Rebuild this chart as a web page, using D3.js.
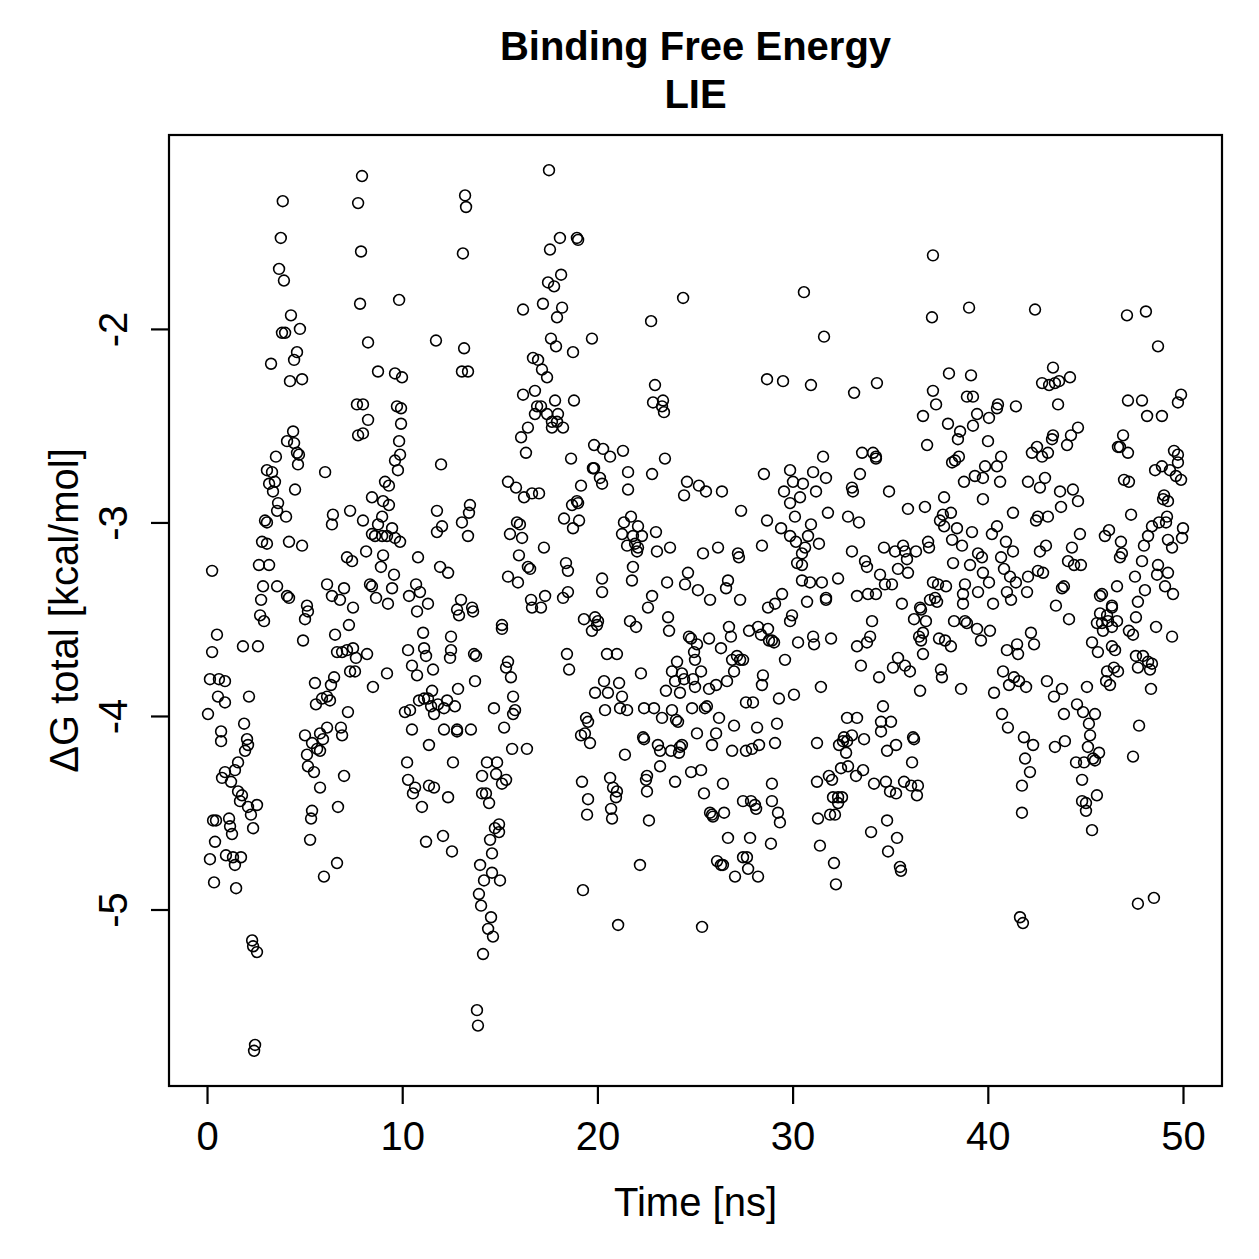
<!DOCTYPE html>
<html><head><meta charset="utf-8">
<script src="https://cdn.jsdelivr.net/npm/d3@7"></script>
<style>body{margin:0;background:#fff} svg{display:block} text{font-family:"Liberation Sans",Arial,Helvetica,sans-serif;fill:#000}</style>
</head><body><svg id="chart" width="1259" height="1259"></svg>
<script>
// [time (ns), dG total (kcal/mol)], grouped by time window
const seg0to10 = [[3.88,-1.34],[3.78,-1.53],[3.69,-1.69],[3.94,-1.75],[4.30,-1.93],[4.76,-2.00],[3.84,-2.02],[4.00,-2.02],[4.61,-2.12],[4.46,-2.16],[3.28,-2.18],[4.25,-2.27],[4.87,-2.26],[7.94,-1.21],[7.74,-1.35],[7.89,-1.60],[9.84,-1.85],[7.84,-1.87],[8.25,-2.07],[8.76,-2.22],[9.63,-2.23],[9.99,-2.25],[7.68,-2.39],[7.99,-2.39],[8.25,-2.47],[7.74,-2.55],[7.99,-2.54],[9.73,-2.40],[9.94,-2.41],[9.94,-2.49],[9.84,-2.58],[9.63,-2.68],[9.89,-2.65],[9.78,-2.73],[4.41,-2.53],[4.10,-2.58],[4.46,-2.59],[4.61,-2.64],[4.71,-2.65],[4.66,-2.70],[3.53,-2.66],[3.07,-2.73],[3.33,-2.74],[3.18,-2.80],[3.48,-2.79],[3.38,-2.84],[4.51,-2.83],[3.64,-2.90],[3.59,-2.94],[4.05,-2.97],[2.97,-2.99],[3.07,-3.00],[6.05,-2.74],[7.33,-2.94],[6.45,-2.96],[6.40,-3.01],[7.99,-2.99],[2.82,-3.10],[3.07,-3.11],[4.20,-3.10],[4.87,-3.12],[8.45,-2.87],[9.12,-2.79],[9.32,-2.81],[9.02,-2.89],[9.32,-2.91],[8.97,-2.97],[8.76,-3.01],[8.45,-3.06],[8.61,-3.07],[8.97,-3.07],[9.22,-3.07],[9.48,-3.03],[9.63,-3.08],[9.89,-3.10],[8.15,-3.15],[9.02,-3.17],[7.17,-3.18],[7.43,-3.20],[8.91,-3.23],[9.58,-3.27],[2.66,-3.22],[3.18,-3.22],[0.26,-3.25],[2.87,-3.33],[3.59,-3.33],[2.77,-3.40],[4.10,-3.38],[4.20,-3.39],[5.12,-3.43],[6.15,-3.32],[6.40,-3.38],[6.81,-3.40],[7.02,-3.34],[8.35,-3.32],[8.45,-3.33],[9.48,-3.34],[8.66,-3.39],[9.27,-3.42],[7.48,-3.44],
[2.72,-3.48],[2.92,-3.51],[5.17,-3.46],[5.02,-3.50],[0.51,-3.58],[0.26,-3.67],[1.84,-3.64],[2.61,-3.64],[4.92,-3.61],[6.56,-3.58],[7.27,-3.53],[6.66,-3.67],[6.92,-3.67],[7.17,-3.66],[7.48,-3.65],[7.63,-3.70],[8.20,-3.68],[7.33,-3.77],[7.58,-3.77],[9.22,-3.78],[8.50,-3.85],[0.15,-3.81],[0.61,-3.81],[0.92,-3.82],[0.56,-3.90],[0.92,-3.93],[2.15,-3.90],[0.05,-3.99],[5.53,-3.83],[6.51,-3.80],[6.35,-3.84],[5.89,-3.91],[6.15,-3.90],[6.30,-3.92],[5.58,-3.94],[7.22,-3.98],[0.72,-4.08],[0.72,-4.13],[1.90,-4.04],[2.05,-4.12],[2.10,-4.15],[1.95,-4.18],[1.59,-4.24],[1.43,-4.28],[0.92,-4.29],[0.77,-4.32],[1.23,-4.34],[5.02,-4.10],[5.38,-4.14],[5.79,-4.09],[5.94,-4.12],[5.64,-4.17],[5.79,-4.18],[6.15,-4.06],[6.86,-4.06],[6.92,-4.10],[5.12,-4.20],[5.17,-4.26],[5.48,-4.29],[5.79,-4.37],[7.02,-4.31],[1.59,-4.39],[1.79,-4.41],[1.69,-4.44],[2.10,-4.47],[2.25,-4.51],[2.56,-4.46],[2.36,-4.58],[0.31,-4.54],[0.46,-4.54],[1.13,-4.53],[1.18,-4.57],[1.28,-4.61],[0.41,-4.65],[0.15,-4.74],[0.97,-4.72],[1.33,-4.73],[1.74,-4.73],[1.43,-4.77],[0.36,-4.86],[1.49,-4.89],[5.38,-4.49],[5.33,-4.53],[6.71,-4.47],[5.28,-4.64],[6.66,-4.76],[5.99,-4.83],[2.31,-5.16],[2.36,-5.19],[2.56,-5.22],[2.46,-5.70],[2.41,-5.73]];

const seg10to20 = [[17.52,-1.18],[13.22,-1.31],[13.27,-1.37],[13.11,-1.61],[18.08,-1.53],[18.95,-1.53],[19.01,-1.54],[17.57,-1.59],[18.14,-1.72],[17.47,-1.76],[17.78,-1.78],[16.19,-1.90],[17.21,-1.87],[18.19,-1.89],[17.93,-1.94],[11.73,-2.06],[13.17,-2.10],[13.06,-2.22],[13.37,-2.22],[17.62,-2.05],[17.88,-2.09],[18.75,-2.12],[19.72,-2.05],[16.70,-2.15],[16.96,-2.16],[17.16,-2.21],[17.42,-2.25],[16.19,-2.34],[16.80,-2.32],[17.83,-2.37],[18.80,-2.37],[16.91,-2.40],[17.11,-2.40],[16.80,-2.44],[17.42,-2.44],[17.98,-2.44],[17.67,-2.48],[17.93,-2.48],[18.24,-2.51],[17.67,-2.51],[16.44,-2.51],[16.09,-2.56],[16.34,-2.64],[18.65,-2.67],[19.83,-2.60],[19.77,-2.72],[19.83,-2.72],[11.99,-2.70],[15.42,-2.79],[15.83,-2.82],[16.24,-2.87],[16.65,-2.85],[17.01,-2.85],[19.16,-2.81],[18.95,-2.89],[18.70,-2.91],[19.01,-2.90],[18.29,-2.98],[18.75,-3.03],[19.06,-2.99],[11.78,-2.94],[12.04,-3.02],[11.78,-3.05],[13.47,-2.91],[13.42,-2.95],[13.06,-3.00],[13.37,-3.07],[15.88,-3.00],[16.03,-3.01],[15.52,-3.06],[16.14,-3.08],[17.26,-3.13],[15.98,-3.17],[16.44,-3.23],[16.55,-3.24],[18.39,-3.21],[18.49,-3.25],[10.81,-3.18],[11.94,-3.23],[12.35,-3.26],[15.42,-3.28],[15.93,-3.31],[10.71,-3.32],[10.91,-3.36],[10.35,-3.38],[11.32,-3.42],[13.01,-3.40],[12.81,-3.45],[13.58,-3.44],[16.60,-3.40],[16.65,-3.44],[17.11,-3.44],[17.32,-3.38],[18.24,-3.39],[18.49,-3.36],
[10.76,-3.46],[12.91,-3.48],[13.63,-3.46],[15.11,-3.53],[15.11,-3.55],[19.31,-3.50],[19.88,-3.49],[20.03,-3.51],[19.72,-3.56],[19.98,-3.53],[11.07,-3.57],[12.50,-3.59],[10.30,-3.66],[11.12,-3.65],[11.22,-3.69],[10.50,-3.74],[12.50,-3.66],[12.45,-3.70],[13.68,-3.68],[13.78,-3.69],[11.58,-3.76],[10.76,-3.79],[15.42,-3.72],[15.32,-3.75],[15.57,-3.80],[13.73,-3.82],[18.44,-3.68],[18.55,-3.76],[12.86,-3.86],[11.53,-3.87],[10.86,-3.92],[11.12,-3.91],[11.32,-3.91],[11.48,-3.95],[11.83,-3.94],[12.14,-3.96],[12.30,-3.92],[12.70,-3.95],[11.63,-3.99],[10.14,-3.98],[10.40,-3.97],[15.68,-3.90],[14.70,-3.96],[15.78,-3.97],[15.68,-3.99],[15.22,-4.06],[10.50,-4.07],[12.14,-4.07],[12.81,-4.07],[12.81,-4.08],[13.52,-4.07],[19.88,-3.88],[19.42,-4.01],[19.52,-4.03],[19.16,-4.10],[19.36,-4.09],[19.62,-4.14],[11.37,-4.15],[15.63,-4.17],[16.39,-4.17],[10.25,-4.24],[12.60,-4.24],[14.34,-4.24],[14.86,-4.24],[10.30,-4.33],[10.66,-4.37],[10.55,-4.40],[11.01,-4.47],[11.37,-4.36],[11.63,-4.37],[12.35,-4.42],[14.09,-4.31],[14.81,-4.30],[15.11,-4.35],[15.32,-4.33],[14.09,-4.40],[14.29,-4.40],[14.45,-4.45],[19.21,-4.34],[19.52,-4.43],[19.47,-4.51],[14.96,-4.56],[14.75,-4.58],[14.96,-4.60],[14.50,-4.64],[14.60,-4.71],[12.09,-4.62],[11.22,-4.65],[12.55,-4.70],[13.99,-4.77],[14.60,-4.81],[14.19,-4.85],[15.01,-4.85],[13.93,-4.92],[14.04,-4.98],[14.55,-5.04],[14.40,-5.10],[14.65,-5.14],[14.14,-5.23],[19.26,-4.90],[13.83,-5.52],[13.88,-5.60]];

const seg20to30 = [[24.39,-1.84],[22.75,-1.96],[28.69,-2.26],[29.51,-2.27],[22.95,-2.29],[22.85,-2.38],[23.36,-2.37],[23.31,-2.40],[23.41,-2.43],[20.29,-2.62],[20.65,-2.66],[21.31,-2.63],[23.46,-2.67],[20.13,-2.77],[20.24,-2.80],[21.57,-2.74],[21.57,-2.83],[22.80,-2.75],[24.59,-2.79],[24.44,-2.86],[25.20,-2.81],[25.56,-2.84],[26.38,-2.84],[27.36,-2.94],[28.53,-2.75],[29.56,-2.84],[28.69,-2.99],[29.41,-3.03],[21.36,-3.00],[21.72,-2.97],[22.08,-3.02],[21.26,-3.06],[21.52,-3.12],[21.82,-3.07],[21.93,-3.11],[22.28,-3.07],[22.03,-3.15],[22.08,-3.13],[23.00,-3.05],[23.05,-3.15],[23.72,-3.13],[21.82,-3.23],[21.77,-3.30],[20.24,-3.29],[20.24,-3.36],[25.41,-3.16],[26.18,-3.13],[27.20,-3.16],[27.25,-3.18],[28.43,-3.12],[24.64,-3.26],[24.49,-3.32],[25.15,-3.35],[25.77,-3.40],[23.57,-3.31],[26.69,-3.30],[26.59,-3.34],[22.80,-3.38],[22.59,-3.44],[27.31,-3.40],[29.46,-3.37],[29.10,-3.42],[28.74,-3.44],
[21.67,-3.51],[21.98,-3.54],[23.62,-3.49],[23.67,-3.56],[24.69,-3.59],[24.80,-3.60],[25.10,-3.63],[25.72,-3.60],[26.33,-3.65],[26.74,-3.54],[26.84,-3.59],[27.77,-3.56],[28.23,-3.54],[28.38,-3.58],[28.74,-3.55],[28.79,-3.61],[28.94,-3.61],[29.05,-3.62],[29.61,-3.71],[20.49,-3.68],[21.00,-3.68],[22.23,-3.78],[24.08,-3.72],[23.82,-3.77],[24.33,-3.78],[23.98,-3.82],[24.44,-3.81],[24.90,-3.81],[25.00,-3.85],[25.31,-3.77],[25.00,-3.71],[24.95,-3.67],[23.51,-3.87],[24.23,-3.88],[25.72,-3.86],[26.08,-3.84],[26.64,-3.82],[26.90,-3.71],[27.15,-3.69],[27.31,-3.71],[27.46,-3.71],[27.00,-3.77],[28.48,-3.79],[28.43,-3.84],[29.30,-3.91],[27.61,-3.93],[27.97,-3.93],[20.34,-3.82],[21.11,-3.83],[20.54,-3.88],[21.26,-3.90],[20.39,-3.97],[21.16,-3.96],[21.52,-3.97],[22.39,-3.96],[22.90,-3.96],[23.31,-4.01],[23.82,-3.97],[24.03,-4.02],[24.13,-4.03],[24.85,-3.96],[25.51,-3.96],[25.61,-3.95],[26.23,-4.01],[27.00,-4.05],[28.18,-4.06],[29.20,-4.04],[25.10,-4.09],[26.08,-4.09],[25.87,-4.15],[22.34,-4.11],[22.39,-4.12],[23.10,-4.15],[23.21,-4.18],[23.77,-4.18],[24.23,-4.16],[24.33,-4.15],[24.18,-4.19],[21.41,-4.20],[26.90,-4.18],[27.61,-4.18],[27.92,-4.17],[28.28,-4.15],[29.10,-4.14],[23.21,-4.26],[20.65,-4.32],[20.80,-4.37],[21.00,-4.39],[20.95,-4.42],[20.70,-4.48],[20.75,-4.53],[22.54,-4.31],[22.49,-4.33],[22.54,-4.39],[23.98,-4.34],[24.80,-4.29],[25.31,-4.28],[25.46,-4.40],[26.43,-4.35],[28.94,-4.35],[28.94,-4.44],[27.46,-4.44],[27.87,-4.44],[28.07,-4.46],[28.13,-4.48],[25.77,-4.50],[25.87,-4.51],[25.92,-4.52],[26.49,-4.50],[29.25,-4.50],[29.35,-4.55],[22.64,-4.54],[26.69,-4.63],[27.82,-4.63],[28.89,-4.66],[22.18,-4.77],[26.13,-4.75],[26.33,-4.77],[26.43,-4.77],[27.46,-4.73],[27.66,-4.73],[27.72,-4.79],[27.05,-4.83],[28.23,-4.83],[21.06,-5.08],[25.36,-5.09]];

const seg30to40 = [[37.19,-1.62],[30.58,-1.81],[39.04,-1.89],[37.14,-1.94],[31.61,-2.04],[30.94,-2.29],[33.15,-2.33],[34.32,-2.28],[38.01,-2.23],[39.14,-2.24],[37.19,-2.32],[37.35,-2.39],[36.68,-2.45],[38.93,-2.35],[39.24,-2.35],[39.45,-2.44],[39.24,-2.50],[37.96,-2.49],[38.58,-2.53],[38.47,-2.57],[36.89,-2.60],[38.17,-2.69],[38.32,-2.68],[38.52,-2.66],[39.86,-2.71],[39.75,-2.77],[39.34,-2.76],[38.78,-2.79],[39.75,-2.88],[31.56,-2.66],[33.56,-2.64],[34.12,-2.64],[34.27,-2.66],[34.27,-2.67],[29.87,-2.73],[30.02,-2.79],[30.53,-2.80],[31.05,-2.74],[31.71,-2.77],[31.20,-2.84],[33.45,-2.75],[33.04,-2.82],[33.09,-2.84],[34.94,-2.84],[30.38,-2.87],[29.87,-2.90],[30.12,-2.97],[31.81,-2.95],[32.84,-2.97],[33.40,-3.00],[30.94,-3.01],[30.79,-3.07],[35.91,-2.93],[36.78,-2.92],[37.76,-2.87],[37.70,-2.96],[38.11,-2.95],[37.55,-2.99],[37.76,-3.02],[38.42,-3.03],[38.17,-3.09],[39.19,-3.05],[30.17,-3.10],[29.87,-3.07],[30.64,-3.13],[30.48,-3.16],[30.23,-3.21],[30.48,-3.22],[31.35,-3.11],[33.04,-3.15],[34.68,-3.13],[35.25,-3.15],[35.66,-3.12],[35.76,-3.15],[36.32,-3.15],[35.86,-3.19],[36.94,-3.10],[36.99,-3.13],[33.71,-3.20],[33.81,-3.23],[35.40,-3.24],[35.91,-3.26],[34.48,-3.27],[34.73,-3.32],[35.09,-3.32],[38.68,-3.12],[38.22,-3.21],[39.09,-3.22],[39.50,-3.16],[39.70,-3.18],[39.75,-3.26],[32.33,-3.29],[30.48,-3.30],[30.89,-3.31],[31.50,-3.31],[37.19,-3.31],[37.45,-3.32],[37.86,-3.33],[38.83,-3.32],[38.73,-3.37],[39.50,-3.36],[30.74,-3.41],[31.71,-3.39],[31.71,-3.40],[33.30,-3.38],[33.86,-3.37],[34.27,-3.37],[35.60,-3.42],[36.53,-3.44],[37.04,-3.40],[37.30,-3.39],[37.40,-3.41],[38.73,-3.42],
[29.97,-3.48],[29.87,-3.51],[30.28,-3.62],[31.05,-3.59],[31.10,-3.63],[31.97,-3.60],[34.07,-3.51],[33.97,-3.59],[33.81,-3.62],[33.30,-3.64],[33.50,-3.74],[34.43,-3.80],[31.45,-3.85],[30.07,-3.89],[35.40,-3.70],[35.14,-3.75],[35.76,-3.74],[36.01,-3.77],[36.22,-3.50],[36.58,-3.45],[36.83,-3.51],[36.48,-3.59],[36.68,-3.57],[36.58,-3.61],[36.68,-3.68],[36.53,-3.87],[37.50,-3.60],[37.81,-3.61],[38.11,-3.64],[38.27,-3.51],[38.83,-3.51],[38.93,-3.52],[39.45,-3.55],[39.65,-3.61],[37.60,-3.76],[37.65,-3.80],[38.63,-3.86],[34.63,-3.95],[32.79,-4.01],[33.30,-4.01],[34.53,-4.03],[35.04,-4.03],[34.53,-4.08],[31.25,-4.14],[32.63,-4.11],[32.58,-4.13],[33.04,-4.10],[32.79,-4.13],[32.38,-4.15],[32.74,-4.19],[33.66,-4.12],[34.84,-4.18],[35.30,-4.15],[36.17,-4.11],[36.22,-4.12],[36.12,-4.24],[32.48,-4.27],[32.84,-4.26],[33.61,-4.28],[33.25,-4.31],[31.86,-4.31],[32.02,-4.33],[31.25,-4.34],[34.17,-4.35],[34.78,-4.34],[34.99,-4.39],[35.30,-4.40],[35.71,-4.34],[36.07,-4.36],[36.42,-4.36],[36.37,-4.41],[32.07,-4.42],[32.33,-4.42],[32.53,-4.42],[32.33,-4.45],[31.30,-4.53],[31.92,-4.51],[32.17,-4.51],[34.84,-4.54],[34.02,-4.60],[35.35,-4.63],[34.89,-4.70],[31.40,-4.67],[32.12,-4.76],[35.50,-4.78],[35.55,-4.80],[32.22,-4.87]];

const seg40to50 = [[42.42,-1.90],[47.13,-1.93],[48.10,-1.91],[48.72,-2.09],[43.34,-2.20],[42.78,-2.28],[43.14,-2.29],[43.44,-2.28],[43.65,-2.27],[44.21,-2.25],[43.60,-2.39],[40.52,-2.39],[40.47,-2.41],[41.44,-2.40],[40.06,-2.46],[47.18,-2.37],[47.90,-2.37],[48.16,-2.45],[48.92,-2.45],[49.90,-2.34],[49.74,-2.38],[44.62,-2.51],[44.26,-2.55],[44.06,-2.60],[43.34,-2.55],[43.29,-2.57],[42.52,-2.61],[42.26,-2.64],[42.78,-2.66],[43.08,-2.64],[40.01,-2.58],[40.68,-2.66],[40.47,-2.71],[40.63,-2.79],[42.06,-2.79],[42.67,-2.82],[42.93,-2.77],[43.70,-2.84],[43.75,-2.92],[44.36,-2.83],[44.62,-2.89],[46.93,-2.55],[46.67,-2.61],[46.77,-2.61],[47.18,-2.64],[46.98,-2.78],[47.23,-2.79],[48.57,-2.73],[48.92,-2.71],[49.54,-2.63],[49.74,-2.65],[49.74,-2.69],[49.33,-2.73],[49.64,-2.76],[49.90,-2.78],[49.03,-2.86],[48.98,-2.88],[49.23,-2.89],[47.34,-2.96],[48.77,-3.00],[49.18,-2.97],[49.13,-3.00],[48.41,-3.02],[50.00,-3.03],[49.95,-3.08],[49.23,-3.09],[49.44,-3.13],[48.21,-3.07],[48.00,-3.12],[41.29,-2.95],[42.57,-2.97],[42.47,-2.99],[43.08,-2.97],[40.21,-3.06],[40.47,-3.02],[40.93,-3.10],[41.29,-3.15],[40.68,-3.18],[42.98,-3.12],[42.67,-3.15],[44.31,-3.13],[44.72,-3.06],[44.11,-3.20],[44.42,-3.22],[44.77,-3.22],[46.00,-3.07],[46.21,-3.04],[46.82,-3.10],[46.87,-3.16],[46.77,-3.18],[47.90,-3.20],[48.72,-3.22],[48.67,-3.27],[49.23,-3.26],[47.54,-3.28],[49.08,-3.33],[49.49,-3.37],[48.05,-3.35],[47.69,-3.41],[46.62,-3.33],[45.75,-3.38],[45.85,-3.37],[46.36,-3.43],[43.90,-3.33],[43.80,-3.34],[43.49,-3.43],[42.57,-3.25],[42.83,-3.26],[42.06,-3.28],[40.83,-3.24],[41.14,-3.28],[41.44,-3.31],[42.01,-3.36],[40.06,-3.31],[40.98,-3.36],[41.19,-3.40],[40.27,-3.42],
[44.16,-3.50],[40.11,-3.56],[42.21,-3.57],[42.37,-3.63],[41.50,-3.63],[40.98,-3.66],[41.55,-3.68],[40.78,-3.77],[41.34,-3.80],[41.09,-3.84],[41.60,-3.82],[41.96,-3.85],[40.32,-3.88],[43.03,-3.82],[43.80,-3.86],[43.39,-3.90],[45.08,-3.85],[45.75,-3.47],[46.11,-3.48],[46.36,-3.44],[46.62,-3.51],[45.85,-3.52],[45.59,-3.52],[45.90,-3.56],[46.36,-3.54],[46.16,-3.51],[47.59,-3.49],[47.23,-3.56],[47.44,-3.58],[48.62,-3.54],[49.44,-3.59],[45.34,-3.62],[45.64,-3.67],[46.36,-3.64],[46.52,-3.66],[47.59,-3.69],[47.95,-3.69],[48.21,-3.72],[48.41,-3.73],[47.69,-3.75],[48.31,-3.76],[46.11,-3.77],[46.46,-3.75],[46.67,-3.77],[46.06,-3.82],[46.26,-3.84],[48.36,-3.86],[44.57,-3.94],[44.88,-3.98],[43.90,-3.99],[45.49,-3.99],[40.73,-3.99],[41.03,-4.06],[45.18,-4.04],[45.24,-4.10],[45.13,-4.16],[47.75,-4.05],[41.85,-4.11],[42.32,-4.15],[43.95,-4.13],[43.44,-4.16],[45.70,-4.19],[45.39,-4.22],[45.49,-4.23],[44.93,-4.24],[44.52,-4.24],[47.44,-4.21],[41.91,-4.22],[42.16,-4.29],[41.75,-4.36],[44.83,-4.33],[45.59,-4.41],[44.83,-4.44],[45.03,-4.45],[45.03,-4.49],[41.75,-4.50],[45.34,-4.59],[41.65,-5.04],[41.80,-5.07],[47.69,-4.97],[48.51,-4.94]];

const xTicks = [0, 10, 20, 30, 40, 50];
const yTicks = [-5, -4, -3, -2];
const titleLines = ["Binding Free Energy", "LIE"];
const xLabel = "Time [ns]";
const yLabel = "ΔG total [kcal/mol]";

const data = [].concat(seg0to10, seg10to20, seg20to30, seg30to40, seg40to50).map(([t, g]) => ({t, g}));

const svg = d3.select("#chart");
const box = {left: 169, right: 1222, top: 135, bottom: 1086};
const pad = e => { const r = e[1] - e[0]; return [e[0] - 0.04 * r, e[1] + 0.04 * r]; };
const x = d3.scaleLinear().domain(pad(d3.extent(data, d => d.t))).range([box.left, box.right]);
const y = d3.scaleLinear().domain(pad(d3.extent(data, d => d.g))).range([box.bottom, box.top]);

const FS = 40;

// points
svg.append("g").selectAll("circle").data(data).join("circle")
  .attr("cx", d => x(d.t)).attr("cy", d => y(d.g)).attr("r", 5.4)
  .attr("fill", "none").attr("stroke", "#000").attr("stroke-width", 1.6);

// box
svg.append("rect").attr("x", box.left).attr("y", box.top)
  .attr("width", box.right - box.left).attr("height", box.bottom - box.top)
  .attr("fill", "none").attr("stroke", "#000").attr("stroke-width", 2.2);

// x axis
const gx = svg.append("g").attr("transform", `translate(0,${box.bottom})`)
  .call(d3.axisBottom(x).tickValues(xTicks).tickFormat(d3.format("d")).tickSize(18).tickSizeOuter(0));
gx.select(".domain").remove();
gx.selectAll(".tick line").attr("stroke-width", 2.2);
gx.selectAll(".tick text").attr("font-size", FS).attr("font-family", null)
  .attr("y", 64).attr("dy", null);

// y axis
const gy = svg.append("g").attr("transform", `translate(${box.left},0)`)
  .call(d3.axisLeft(y).tickValues(yTicks).tickFormat(d => String(d).replace("\u2212", "-")).tickSize(18).tickSizeOuter(0));
gy.select(".domain").remove();
gy.selectAll(".tick line").attr("stroke-width", 2.2);
gy.selectAll(".tick text").attr("font-size", FS).attr("font-family", null)
  .attr("x", 0).attr("y", 0).attr("dy", null).attr("text-anchor", "middle")
  .attr("transform", "translate(-42,0) rotate(-90)");

// axis titles
const cx = (box.left + box.right) / 2, cy = (box.top + box.bottom) / 2;
svg.append("text").attr("x", cx).attr("y", 1216).attr("text-anchor", "middle")
  .attr("font-size", FS).text(xLabel);
svg.append("text").attr("transform", `translate(78,${cy}) rotate(-90)`)
  .attr("text-anchor", "middle").attr("font-size", FS).text(yLabel);

// title
svg.selectAll("text.title").data(titleLines).join("text").attr("class", "title")
  .attr("x", cx).attr("y", (d, i) => 60 + i * 48).attr("text-anchor", "middle")
  .attr("font-size", FS).attr("font-weight", "bold").text(d => d);
</script></body></html>
